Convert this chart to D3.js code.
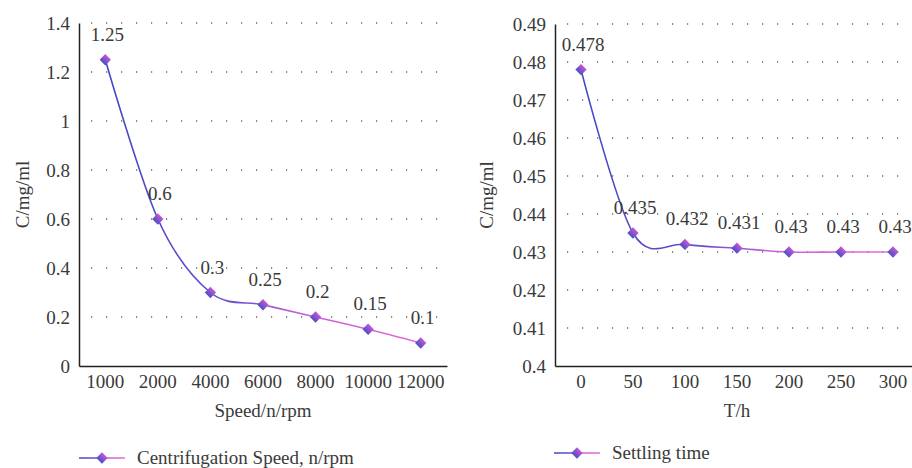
<!DOCTYPE html>
<html>
<head>
<meta charset="utf-8">
<style>
	body { margin: 0; background: white; }
	svg text { font-family: "Liberation Serif", "Times New Roman", serif !important; fill: #3a3a3a; }
	.axis path, .axis line { stroke: #222; }
	.grid line { stroke: #666; stroke-dasharray: 1.2 13.8; stroke-width: 1.3; }
</style>
</head>
<body>
<svg width="912" height="468"></svg>

<script src="https://cdn.jsdelivr.net/npm/d3@7"></script>
<script>
// left chart
const speedCats = ["1000", "2000", "4000", "6000", "8000", "10000", "12000"];
const speedVals = [1.25, 0.6, 0.3, 0.25, 0.2, 0.15, 0.094];
const speedLabels = ["1.25", "0.6", "0.3", "0.25", "0.2", "0.15", "0.1"];
const speedTicks = [0, 0.2, 0.4, 0.6, 0.8, 1, 1.2, 1.4];

// right chart
const timeCats = ["0", "50", "100", "150", "200", "250", "300"];
const timeVals = [0.478, 0.435, 0.432, 0.431, 0.43, 0.43, 0.43];
const timeTicks = [0.4, 0.41, 0.42, 0.43, 0.44, 0.45, 0.46, 0.47, 0.48, 0.49];

const FS = "19px";

const svg = d3.select("svg");

// shared gradients
var defs = svg.append("defs");
function addLineGrad(id, x1, x2, units) {
	var lg = defs.append("linearGradient").attr("id", id);
	if (units) lg.attr("gradientUnits", "userSpaceOnUse").attr("x1", x1).attr("x2", x2).attr("y1", 0).attr("y2", 0);
	lg.append("stop").attr("offset", "0%").attr("stop-color", "#4148c4");
	lg.append("stop").attr("offset", "40%").attr("stop-color", "#6a4fcc");
	lg.append("stop").attr("offset", "60%").attr("stop-color", "#c660d6");
	lg.append("stop").attr("offset", "100%").attr("stop-color", "#e46cd8");
}
addLineGrad("lineGrad");
addLineGrad("legGrad", 0, 46, true);

var mGrad = defs.append("linearGradient").attr("id", "mGrad")
	.attr("x1", 0).attr("y1", 0).attr("x2", 0).attr("y2", 1);
mGrad.append("stop").attr("offset", "0%").attr("stop-color", "#c656d6");
mGrad.append("stop").attr("offset", "100%").attr("stop-color", "#4a50c4");

function drawChart(opt) {
	var g = svg.append("g");

	var x = d3.scaleBand().domain(opt.cats).range([opt.left, opt.right]);
	var y = d3.scaleLinear().domain(opt.domain).range([opt.bottom, opt.top]);
	var cx = d => x(d) + x.bandwidth() / 2;

	// dotted grid
	g.append("g").attr("class", "grid")
		.selectAll("line")
		.data(opt.ticks.slice(1))
		.enter()
		.append("line")
			.attr("x1", opt.left + 12)
			.attr("x2", opt.gridEnd)
			.attr("y1", d => y(d))
			.attr("y2", d => y(d));

	var yAxis = g.append("g").attr("class", "axis")
		.attr("transform", "translate(" + opt.left + ",0)")
		.call(d3.axisLeft(y).tickValues(opt.ticks).tickSize(0).tickPadding(9).tickFormat(d3.format("")));
	yAxis.selectAll("text").style("font-size", FS);
	yAxis.select(".domain").attr("stroke-width", 1.5);

	var xAxis = g.append("g").attr("class", "axis")
		.attr("transform", "translate(0," + opt.bottom + ")")
		.call(d3.axisBottom(x).tickSize(0).tickPadding(9));
	xAxis.selectAll("text").style("font-size", FS);
	xAxis.select(".domain").attr("stroke-width", 1.5);

	g.append("text")
		.attr("transform", "translate(" + opt.ylabX + "," + ((opt.top + opt.bottom) / 2) + ") rotate(-90)")
		.attr("text-anchor", "middle")
		.attr("dy", "0.35em")
		.style("font-size", FS)
		.text("C/mg/ml");

	g.append("text")
		.attr("x", opt.xlabX)
		.attr("y", opt.bottom + 51)
		.attr("text-anchor", "middle")
		.style("font-size", FS)
		.text(opt.xTitle);

	var pts = opt.cats.map((c, i) => [cx(c), y(opt.vals[i])]);

	var line = d3.line().curve(d3.curveCardinal.tension(0));
	g.append("path")
		.attr("d", line(pts))
		.attr("fill", "none")
		.attr("stroke", "url(#lineGrad)")
		.attr("stroke-width", 1.6);

	var diamond = d3.symbol().type(d3.symbolSquare).size(64);
	g.selectAll(".marker")
		.data(pts)
		.enter()
		.append("path")
			.attr("class", "marker")
			.attr("transform", d => "translate(" + d[0] + "," + d[1] + ") rotate(45)")
			.attr("d", diamond)
			.attr("fill", "url(#mGrad)");

	g.selectAll(".dlabel")
		.data(opt.labels)
		.enter()
		.append("text")
			.attr("class", "dlabel")
			.attr("x", (d, i) => pts[i][0] + 2)
			.attr("y", (d, i) => pts[i][1] - 19)
			.attr("text-anchor", "middle")
			.style("font-size", FS)
			.text(d => d);

	// legend
	var lg = g.append("g").attr("transform", "translate(" + opt.legX + "," + opt.legY + ")");
	lg.append("line")
		.attr("x1", 0).attr("x2", 46)
		.attr("stroke", "url(#legGrad)")
		.attr("stroke-width", 1.6);
	lg.append("path")
		.attr("transform", "translate(23,0) rotate(45)")
		.attr("d", diamond)
		.attr("fill", "url(#mGrad)");
	lg.append("text")
		.attr("x", 58)
		.attr("dy", "0.32em")
		.style("font-size", FS)
		.text(opt.legend);
}

drawChart({
	cats: speedCats, vals: speedVals, labels: speedLabels, ticks: speedTicks,
	domain: [0, 1.4], left: 79, right: 447, top: 23, bottom: 366, gridEnd: 443,
	ylabX: 22, xlabX: 263, xTitle: "Speed/n/rpm",
	legX: 79, legY: 458, legend: "Centrifugation Speed, n/rpm"
});

drawChart({
	cats: timeCats, vals: timeVals, labels: timeVals.map(String), ticks: timeTicks,
	domain: [0.4, 0.49], left: 555, right: 919, top: 24, bottom: 366, gridEnd: 912,
	ylabX: 486, xlabX: 737, xTitle: "T/h",
	legX: 554, legY: 453, legend: "Settling time"
});
</script>
</body>
</html>
